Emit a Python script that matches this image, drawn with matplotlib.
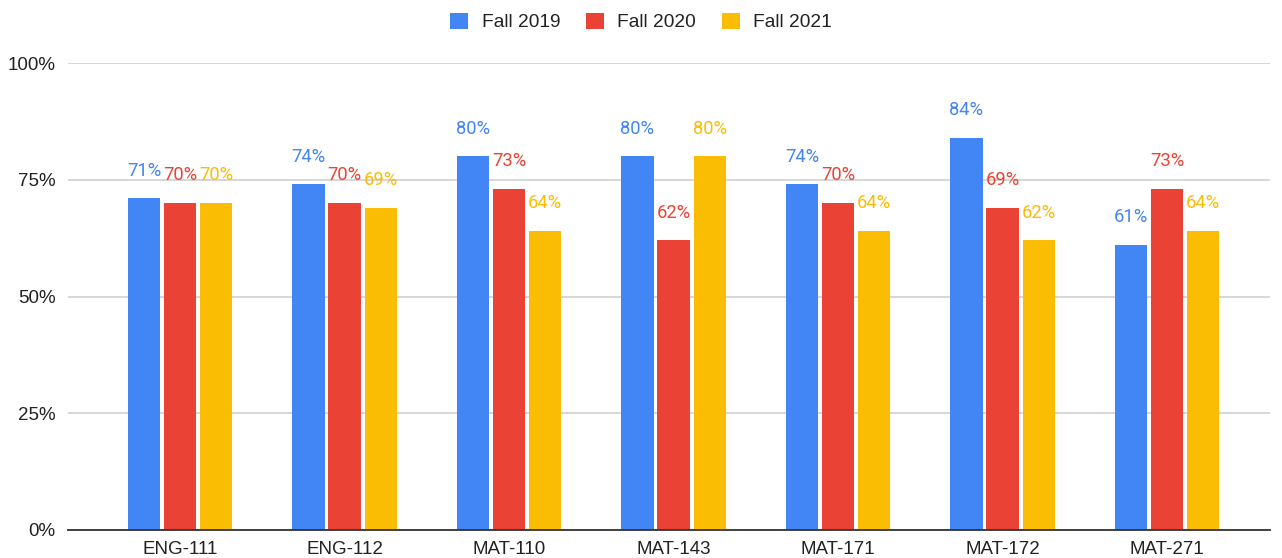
import matplotlib
matplotlib.use("Agg")
import matplotlib.pyplot as plt
import numpy as np

categories = ["ENG-111", "ENG-112", "MAT-110", "MAT-143", "MAT-171", "MAT-172", "MAT-271"]
series_names = ["Fall 2019", "Fall 2020", "Fall 2021"]
fall_2019 = [71, 74, 80, 80, 74, 84, 61]
fall_2020 = [70, 70, 73, 62, 70, 69, 73]
fall_2021 = [70, 69, 64, 80, 64, 62, 64]
y_ticks = [0, 25, 50, 75, 100]
y_tick_labels = ["0%", "25%", "50%", "75%", "100%"]

colors = ["#4285F4", "#EA4335", "#FBBC04"]
plt.rcParams['font.family'] = ['Liberation Sans', 'DejaVu Sans']

fig = plt.figure(figsize=(12.82, 5.58), dpi=100)
ax = fig.add_axes([68/1282, 1-530/558, (1270-68)/1282, (530-63)/558])

x = np.arange(len(categories))
pitch = 0.219
width = 0.195
handles = []
for j, (vals, name, c) in enumerate(zip([fall_2019, fall_2020, fall_2021], series_names, colors)):
    xs = x + (j-1)*pitch
    b = ax.bar(xs, vals, width=width, color=c, label=name, zorder=3)
    handles.append(b)
    for xi, v in zip(xs, vals):
        ax.annotate(f"{v}%", (xi, v), xytext=(0, 20), textcoords="offset points",
                    ha="center", va="center", color=c, fontsize=13.2,
                    family=['Roboto', 'DejaVu Sans'], zorder=4)

ax.set_xlim(-0.681, 6.626)
ax.set_ylim(0, 100)
ax.set_yticks(y_ticks)
ax.set_yticklabels(y_tick_labels)
ax.set_xticks(x)
ax.set_xticklabels(categories)
ax.tick_params(axis='both', length=0, labelsize=13.5, colors="#222222")
ax.tick_params(axis='y', pad=9)
ax.tick_params(axis='x', pad=8)
ax.yaxis.grid(True, color="#cccccc", linewidth=1.1, zorder=0)
for s in ["top", "right", "left"]:
    ax.spines[s].set_visible(False)
ax.spines["bottom"].set_color("#333333")
ax.spines["bottom"].set_linewidth(1.3)
ax.spines["bottom"].set_zorder(5)

fig.legend(handles=handles, labels=series_names, loc="center", bbox_to_anchor=(0.5, 1-22/558),
           ncol=3, frameon=False, fontsize=13.8, handlelength=0.95, handleheight=0.95,
           columnspacing=1.35, handletextpad=0.68, labelcolor="#222222")

fig.savefig("out.png", dpi=100)
